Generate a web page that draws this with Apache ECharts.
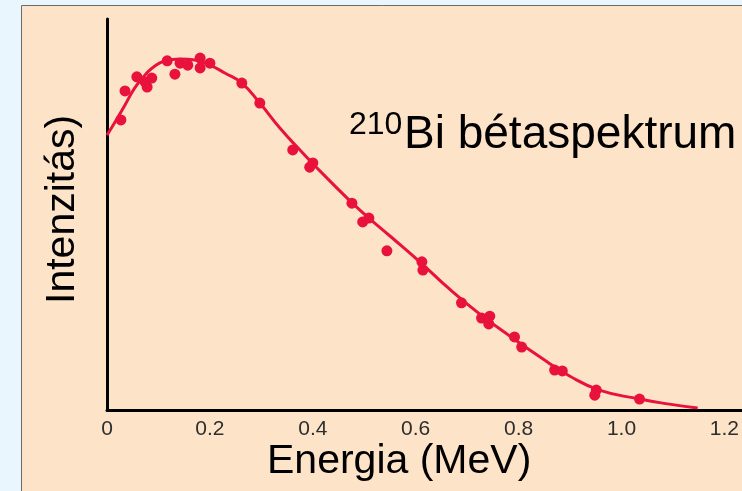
<!DOCTYPE html>
<html>
<head>
<meta charset="utf-8">
<script src="https://cdn.jsdelivr.net/npm/echarts@6/dist/echarts.min.js"></script>
<style>
html,body{margin:0;padding:0;background:#eaf6fe;}
#main{width:742px;height:491px;}
</style>
</head>
<body>
<div id="main"></div>
<script>
// mért pontok (MeV, relatív intenzitás)
var pointE = [0.027,0.035,0.058,0.074,0.078,0.087,0.117,0.132,0.142,0.157,0.181,0.181,0.200,0.262,0.297,
              0.361,0.394,0.400,0.476,0.497,0.509,0.544,0.612,0.614,0.689,0.728,0.744,0.742,0.792,0.806,
              0.870,0.885,0.951,0.948,1.035];
var pointI = [74.2,81.6,85.2,83.9,82.6,84.9,89.3,85.9,88.7,88.2,90.0,87.5,88.7,83.6,78.5,
              66.5,62.1,63.2,52.9,48.1,49.1,40.7,37.9,35.8,27.4,23.5,24.0,22.0,18.7,16.1,
              10.2,10.0,5.1,3.8,2.8];
// illesztett görbe
var curveE = [0,0.016,0.035,0.054,0.074,0.093,0.113,0.142,0.171,0.200,0.229,0.262,0.297,0.336,0.375,
              0.433,0.491,0.550,0.608,0.666,0.724,0.783,0.841,0.899,0.957,1.035,1.093,1.148];
var curveI = [70.3,73.7,78.0,82.4,85.7,88.0,89.3,89.8,89.5,88.2,86.2,83.6,78.5,72.1,66.5,
              58.6,51.2,44.5,37.9,30.9,24.6,18.9,13.6,8.7,5.1,2.8,1.5,0.5];
var xTicks = [0,0.2,0.4,0.6,0.8,1.0,1.2];

var red = '#e8123c';
var font = 'Liberation Sans';

var myChart = echarts.init(document.getElementById('main'));
var option = {
    backgroundColor: '#eaf6fe',
    animation: false,
    graphic: [
        {type:'rect', z:-10, shape:{x:21.5,y:5.5,width:800,height:600},
         style:{fill:'#fde3c8',stroke:'#6b6b6b',lineWidth:1}},
        {type:'text', left:349, top:109, z:10,
         style:{text:'210',fontSize:32,fontFamily:font,fill:'#000'}},
        {type:'text', left:404, top:112, z:10,
         style:{text:'Bi bétaspektrum',fontSize:46,fontFamily:font,fill:'#000'}},
        {type:'text', left:267, top:441, z:10,
         style:{text:'Energia (MeV)',fontSize:41,fontFamily:font,fill:'#000'}},
        {type:'text', x:42, y:304, rotation:Math.PI/2, z:10,
         style:{text:'Intenzitás)',fontSize:41,fontFamily:font,fill:'#000'}}
    ],
    grid: {left:107, right:0, top:19, bottom:81, containLabel:false},
    xAxis: {
        type:'value', min:0, max:1.233, interval:0.2,
        axisLine:{lineStyle:{color:'#000',width:3}},
        axisTick:{show:false},
        splitLine:{show:false},
        axisLabel:{
            margin:9, fontSize:21, fontFamily:font, color:'#2e2e2e',
            formatter:function(v){
                if (xTicks.indexOf(Math.round(v*10)/10) < 0) return '';
                return v === 0 ? '0' : v.toFixed(1);
            }
        }
    },
    yAxis: {
        type:'value', min:0, max:100,
        axisLine:{show:true,lineStyle:{color:'#000',width:3}},
        axisTick:{show:false},
        axisLabel:{show:false},
        splitLine:{show:false}
    },
    series: [
        {
            type:'line', smooth:true, showSymbol:false,
            lineStyle:{color:red,width:3},
            data: curveE.map(function(e,i){ return [e, curveI[i]]; })
        },
        {
            type:'scatter', symbolSize:11,
            itemStyle:{color:red,opacity:1},
            data: pointE.map(function(e,i){ return [e, pointI[i]]; })
        }
    ]
};
myChart.setOption(option);
</script>
</body>
</html>
